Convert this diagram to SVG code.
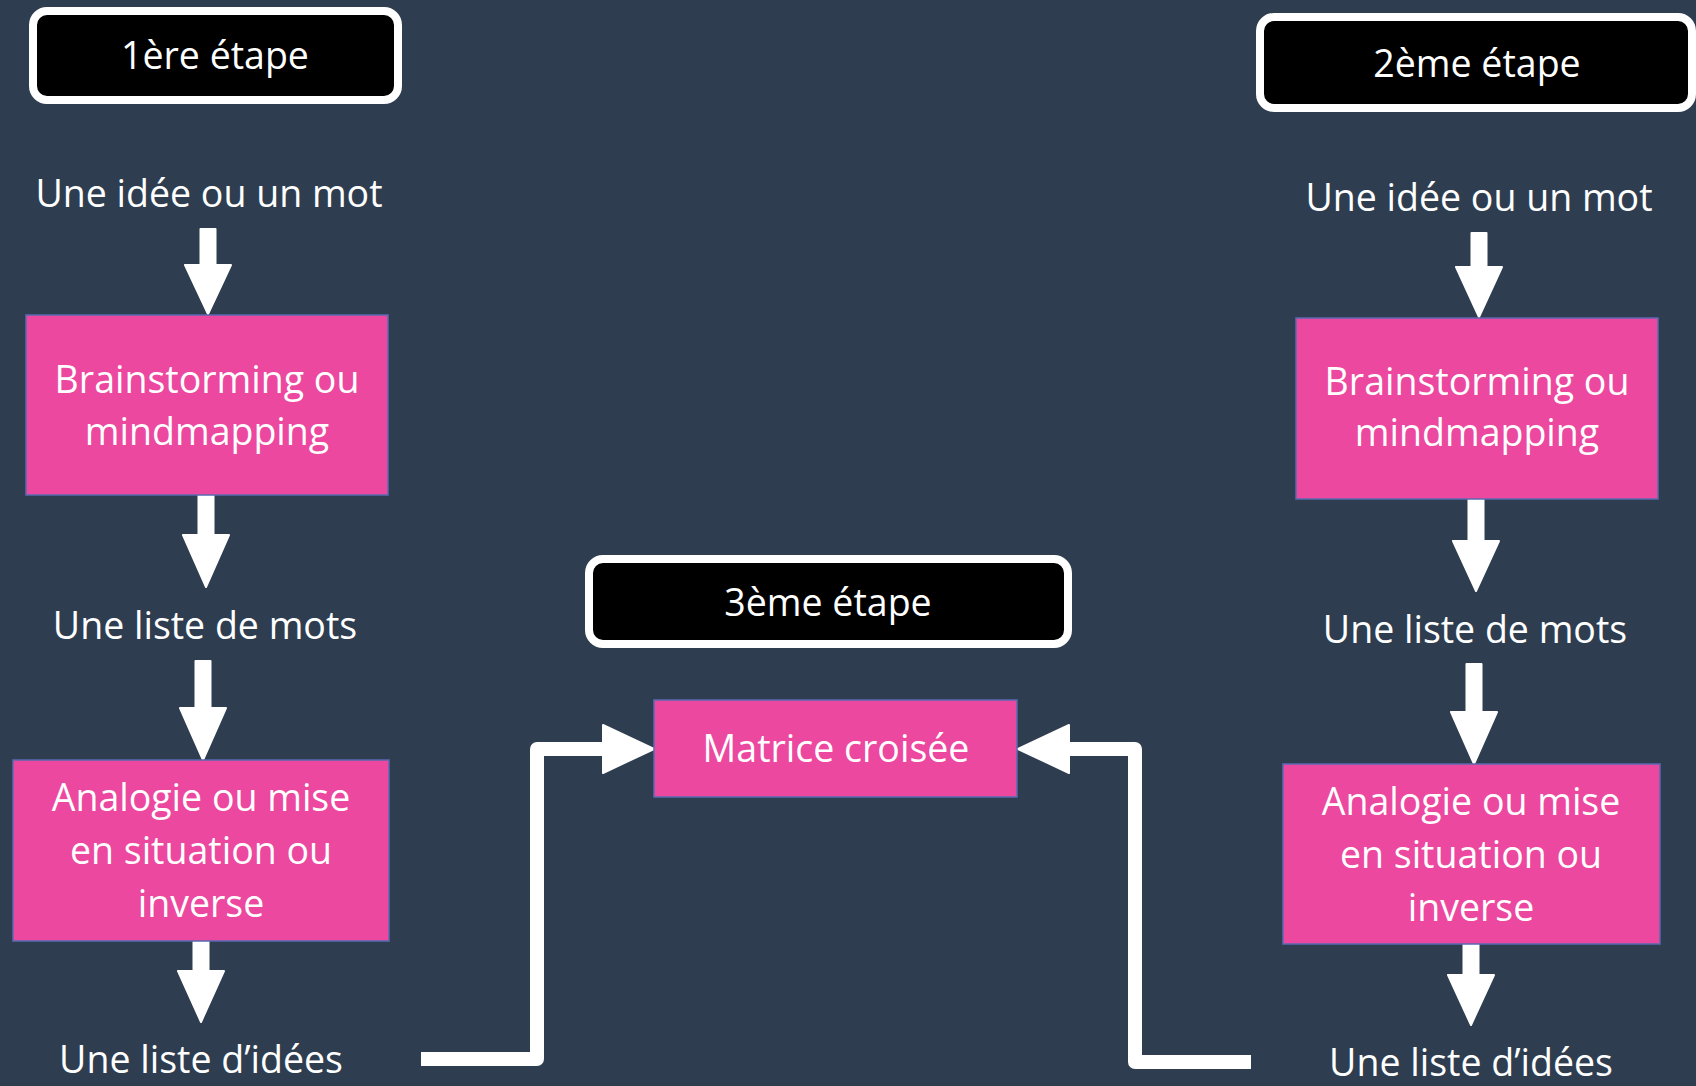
<svg xmlns="http://www.w3.org/2000/svg" width="1696" height="1086" viewBox="0 0 1696 1086">
<style>
.bg{fill:#2E3E50}
.title{fill:#000000;stroke:#FFFFFF;stroke-width:8}
.box{fill:#EC489F;stroke:#5A6AB0;stroke-width:1.5}
.t{font-family:"Open Sans","Noto Sans",sans-serif;font-size:37.5px;fill:#FFFFFF;text-anchor:middle}
.arr{fill:#FFFFFF;stroke:#FFFFFF;stroke-width:2;stroke-linejoin:round}
.line{fill:none;stroke:#FFFFFF;stroke-width:14;stroke-linejoin:round}
</style>
<rect class="bg" x="0" y="0" width="1696" height="1086"/>

<g id="connectors">
  <path class="arr" d="M200.5,229 H215.5 V265 H231 L208,314 L185,265 H200.5 Z"/>
  <path class="arr" d="M198.5,495 H213.5 V535 H229 L206,587 L183,535 H198.5 Z"/>
  <path class="arr" d="M195.5,661 H210.5 V708 H226 L203,760 L180,708 H195.5 Z"/>
  <path class="arr" d="M193.5,941 H208.5 V971 H224 L201,1022 L178,971 H193.5 Z"/>
  <path class="arr" d="M1471.5,233 H1486.5 V267 H1502 L1479,317 L1456,267 H1471.5 Z"/>
  <path class="arr" d="M1468.5,499 H1483.5 V541 H1499 L1476,591 L1453,541 H1468.5 Z"/>
  <path class="arr" d="M1466.5,664 H1481.5 V712 H1497 L1474,764 L1451,712 H1466.5 Z"/>
  <path class="arr" d="M1463.5,944 H1478.5 V975 H1494 L1471,1025 L1448,975 H1463.5 Z"/>
  <polyline class="line" points="421,1059 537,1059 537,749 608,749"/>
  <path class="arr" d="M603,725 L654,749 L603,773 Z"/>
  <polyline class="line" points="1251,1062 1135,1062 1135,749 1064,749"/>
  <path class="arr" d="M1069,725 L1018,749 L1069,773 Z"/>
</g>

<g id="etape1">
  <rect class="title" x="33" y="11" width="365" height="89" rx="14"/>
  <text class="t" x="215" y="69">1ère étape</text>
</g>
<g id="idee1"><text class="t" x="209" y="207">Une idée ou un mot</text></g>
<g id="brainstorming1">
  <rect class="box" x="26" y="315" width="362" height="180"/>
  <text class="t" x="207" y="393">Brainstorming ou</text>
  <text class="t" x="207" y="445">mindmapping</text>
</g>
<g id="listemots1"><text class="t" x="205" y="639">Une liste de mots</text></g>
<g id="analogie1">
  <rect class="box" x="13" y="760" width="376" height="181"/>
  <text class="t" x="201" y="811">Analogie ou mise</text>
  <text class="t" x="201" y="864">en situation ou</text>
  <text class="t" x="201" y="917">inverse</text>
</g>
<g id="listeidees1"><text class="t" x="201" y="1073">Une liste d’idées</text></g>

<g id="etape3">
  <rect class="title" x="589" y="559" width="479" height="85" rx="14"/>
  <text class="t" x="828" y="616">3ème étape</text>
</g>
<g id="matrice">
  <rect class="box" x="654" y="700" width="363" height="97"/>
  <text class="t" x="836" y="762">Matrice croisée</text>
</g>

<g id="etape2">
  <rect class="title" x="1260" y="17" width="432" height="91" rx="14"/>
  <text class="t" x="1477" y="77">2ème étape</text>
</g>
<g id="idee2"><text class="t" x="1479" y="211">Une idée ou un mot</text></g>
<g id="brainstorming2">
  <rect class="box" x="1296" y="318" width="362" height="181"/>
  <text class="t" x="1477" y="395">Brainstorming ou</text>
  <text class="t" x="1477" y="446">mindmapping</text>
</g>
<g id="listemots2"><text class="t" x="1475" y="643">Une liste de mots</text></g>
<g id="analogie2">
  <rect class="box" x="1283" y="764" width="377" height="180"/>
  <text class="t" x="1471" y="815">Analogie ou mise</text>
  <text class="t" x="1471" y="868">en situation ou</text>
  <text class="t" x="1471" y="921">inverse</text>
</g>
<g id="listeidees2"><text class="t" x="1471" y="1076">Une liste d’idées</text></g>
</svg>
